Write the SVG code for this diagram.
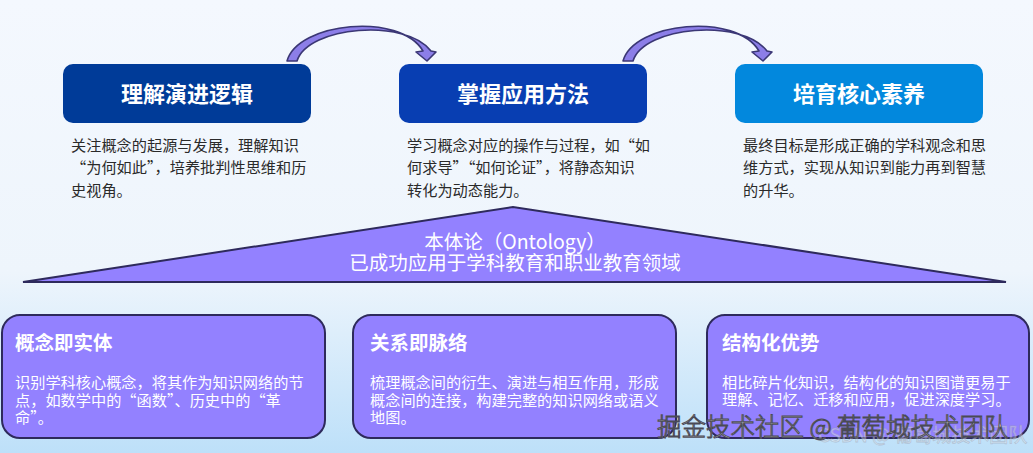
<svg xmlns="http://www.w3.org/2000/svg" width="1033" height="453" viewBox="0 0 1033 453">
<defs>
<linearGradient id="bg" x1="0" y1="0" x2="0" y2="1">
<stop offset="0" stop-color="#f4f8fe"/>
<stop offset="0.6" stop-color="#eef5fc"/>
<stop offset="1" stop-color="#bde0f9"/>
</linearGradient>
<style>
.t{font-family:"Noto Sans CJK SC","Noto Sans",sans-serif}
.ttl{font-size:22px;font-weight:bold;fill:#ffffff;text-anchor:middle}
.desc{font-size:15.2px;fill:#2a2a2a}
.btl{font-size:19.5px;font-weight:bold;fill:#ffffff}
.bdesc{font-size:15.2px;fill:#ffffff}
.card{fill:#9381ff;stroke:#2e2a5c;stroke-width:2}
.arr{fill:#8c7ee8;stroke:#3b3775;stroke-width:1.6;stroke-linejoin:round}
.tri{fill:#9381ff;stroke:#2e2a5c;stroke-width:2}
.onto{font-size:19.5px;fill:#ffffff;text-anchor:middle}
</style>
</defs>
<rect width="1033" height="453" fill="url(#bg)"/>

<g id="connectors">
<path id="arrow1" class="arr" d="M287,61 C298,22 400,12 423,51 L416,52 L427,61 L436,52 L431,51 C406,18 308,26 297,61 Z"/>
<path id="arrow2" class="arr" transform="translate(336,0)" d="M287,61 C298,22 400,12 423,51 L416,52 L427,61 L436,52 L431,51 C406,18 308,26 297,61 Z"/>
</g>

<g id="node-evolution">
<rect x="63" y="64" width="248" height="59" rx="10" fill="#003b98"/>
<text class="t ttl" x="187" y="101.5">理解演进逻辑</text>
<text class="t desc" x="71" y="151">关注概念的起源与发展，理解知识</text>
<text class="t desc" x="71" y="173">“为何如此”，培养批判性思维和历</text>
<text class="t desc" x="71" y="196">史视角。</text>
</g>

<g id="node-method">
<rect x="399" y="64" width="248" height="59" rx="10" fill="#083eb2"/>
<text class="t ttl" x="523" y="101.5">掌握应用方法</text>
<text class="t desc" x="407" y="151">学习概念对应的操作与过程，如“如</text>
<text class="t desc" x="407" y="173">何求导”“如何论证”，将静态知识</text>
<text class="t desc" x="407" y="196">转化为动态能力。</text>
</g>

<g id="node-literacy">
<rect x="735" y="64" width="248" height="59" rx="10" fill="#0288dd"/>
<text class="t ttl" x="859" y="101.5">培育核心素养</text>
<text class="t desc" x="743" y="151">最终目标是形成正确的学科观念和思</text>
<text class="t desc" x="743" y="173">维方式，实现从知识到能力再到智慧</text>
<text class="t desc" x="743" y="196">的升华。</text>
</g>

<g id="node-ontology">
<polygon class="tri" points="23,282 513,207 1006,282"/>
<text class="t onto" x="515" y="249">本体论（Ontology）</text>
<text class="t onto" x="515" y="270">已成功应用于学科教育和职业教育领域</text>
</g>

<g id="node-entity">
<rect class="card" x="2" y="315" width="323" height="123" rx="18"/>
<text class="t btl" x="15" y="350">概念即实体</text>
<text class="t bdesc" x="15" y="388">识别学科核心概念，将其作为知识网络的节</text>
<text class="t bdesc" x="15" y="406">点，如数学中的“函数”、历史中的“革</text>
<text class="t bdesc" x="15" y="423">命”。</text>
</g>

<g id="node-relation">
<rect class="card" x="353" y="315" width="323" height="123" rx="18"/>
<text class="t btl" x="370" y="350">关系即脉络</text>
<text class="t bdesc" x="370" y="388">梳理概念间的衍生、演进与相互作用，形成</text>
<text class="t bdesc" x="370" y="406">概念间的连接，构建完整的知识网络或语义</text>
<text class="t bdesc" x="370" y="423">地图。</text>
</g>

<g id="node-structure">
<rect class="card" x="707" y="315" width="322" height="123" rx="18"/>
<text class="t btl" x="722" y="350">结构化优势</text>
<text class="t bdesc" x="722" y="388">相比碎片化知识，结构化的知识图谱更易于</text>
<text class="t bdesc" x="722" y="405">理解、记忆、迁移和应用，促进深度学习。</text>
</g>

<g id="watermark">
<text class="t" x="818" y="442" font-size="19" fill="#ffffff" fill-opacity="0.35" stroke="#9aa0b0" stroke-opacity="0.5" stroke-width="0.8">CSDN @ 葡萄城技术团队</text>
<text class="t" x="657" y="436" font-size="24.5" font-weight="300" fill="#f4f4f4" stroke="#4a4a55" stroke-width="1">掘金技术社区 @ 葡萄城技术团队</text>
</g>
</svg>
